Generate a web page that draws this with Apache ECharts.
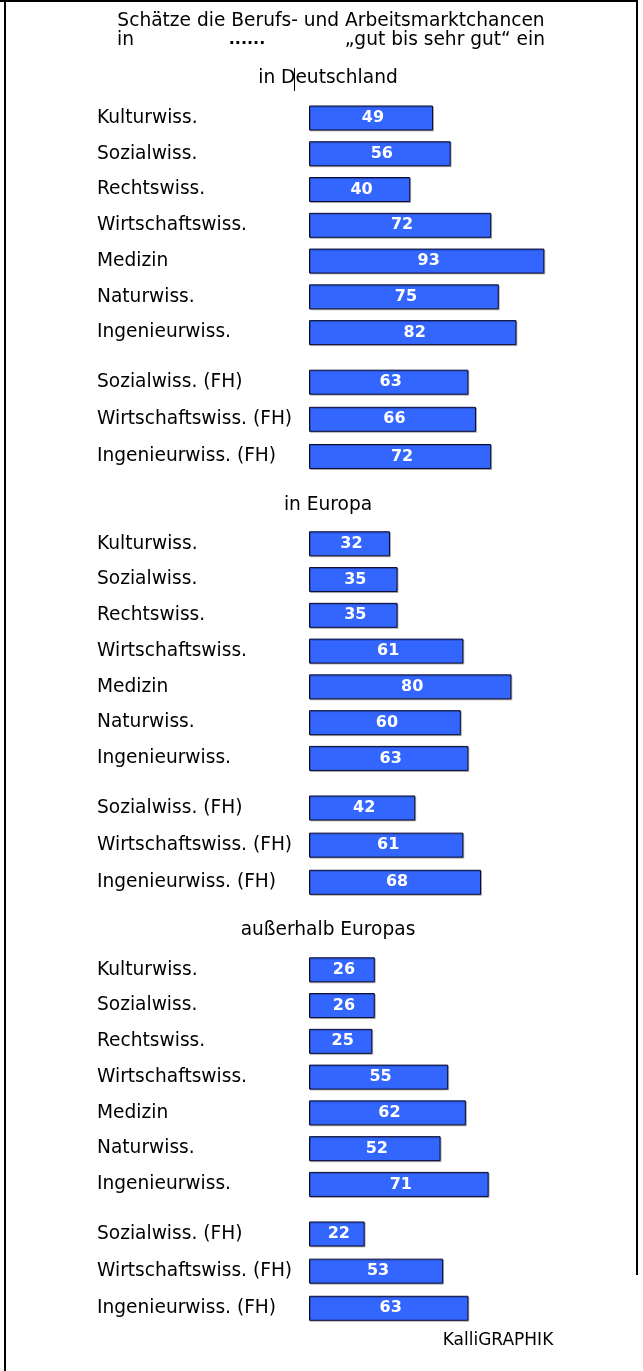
<!DOCTYPE html>
<html>
<head>
<meta charset="utf-8">
<script src="https://cdn.jsdelivr.net/npm/echarts@6/dist/echarts.min.js"></script>
<style>
html,body{margin:0;padding:0;background:#fff;}
#c{width:643px;height:1371px;}
</style>
</head>
<body>
<div id="c"></div>
<script>
const categoriesMain = ['Kulturwiss.', 'Sozialwiss.', 'Rechtswiss.', 'Wirtschaftswiss.', 'Medizin', 'Naturwiss.', 'Ingenieurwiss.'];
const categoriesFH = ['Sozialwiss. (FH)', 'Wirtschaftswiss. (FH)', 'Ingenieurwiss. (FH)'];
const regionTitles = ['in Deutschland', 'in Europa', 'außerhalb Europas'];
const deutschlandMain = [49, 56, 40, 72, 93, 75, 82];
const deutschlandFH = [63, 66, 72];
const europaMain = [32, 35, 35, 61, 80, 60, 63];
const europaFH = [42, 61, 68];
const aussenMain = [26, 26, 25, 55, 62, 52, 71];
const aussenFH = [22, 53, 63];
const titleLine1 = 'Schätze die Berufs- und Arbeitsmarktchancen';
const titleIn = 'in';
const titleDots = '......';
const titleRest = '„gut bis sehr gut“ ein';
const creditText = 'KalliGRAPHIK';

const FONT = 'DejaVu Sans';
const FS = 18.6;
const groups = [
  [deutschlandMain, deutschlandFH],
  [europaMain, europaFH],
  [aussenMain, aussenFH]
];
const offsets = [0, 425.8, 851.8];
const titleY = [78.5, 505, 930];

const grid = [], xAxis = [], yAxis = [], series = [];
groups.forEach((g, r) => {
  [[categoriesMain, g[0], 100.1, 250.4], [categoriesFH, g[1], 363.6, 111.45]].forEach(([cats, vals, top, h]) => {
    const idx = grid.length;
    grid.push({left: 309, width: 253, top: top + offsets[r], height: h});
    xAxis.push({gridIndex: idx, type: 'value', min: 0, max: 100, show: false});
    yAxis.push({
      gridIndex: idx, type: 'category', data: cats, inverse: true,
      axisLine: {show: false}, axisTick: {show: false}, splitLine: {show: false},
      axisLabel: {align: 'left', margin: 212, color: '#000', fontSize: FS, fontFamily: FONT}
    });
    series.push({
      type: 'bar', xAxisIndex: idx, yAxisIndex: idx, data: vals, barWidth: 25,
      itemStyle: {color: '#3366ff', borderColor: '#0a0a30', borderWidth: 1,
        shadowColor: 'rgba(0,0,0,0.25)', shadowOffsetX: 1, shadowOffsetY: 1, shadowBlur: 0},
      label: {show: true, position: 'inside', offset: [2, 0], color: '#fff', fontWeight: 'bold', fontSize: 16, fontFamily: FONT},
      silent: true, animation: false
    });
  });
});

const graphic = [
  {type: 'line', shape: {x1: 5, y1: 0, x2: 5, y2: 1371}, style: {stroke: '#000', lineWidth: 2}},
  {type: 'line', shape: {x1: 0, y1: 1, x2: 638, y2: 1}, style: {stroke: '#000', lineWidth: 2}},
  {type: 'line', shape: {x1: 637, y1: 0, x2: 637, y2: 1275}, style: {stroke: '#000', lineWidth: 2}},
  {type: 'text', x: 331, y: 21, style: {text: titleLine1, fill: '#000', font: FS + 'px "' + FONT + '"', textAlign: 'center', textVerticalAlign: 'middle'}},
  {type: 'text', x: 117, y: 40, style: {text: titleIn, fill: '#000', font: FS + 'px "' + FONT + '"', textAlign: 'left', textVerticalAlign: 'middle'}},
  {type: 'text', x: 247, y: 40, style: {text: titleDots, fill: '#000', font: 'bold 16px "' + FONT + '"', textAlign: 'center', textVerticalAlign: 'middle'}},
  {type: 'text', x: 545, y: 40, style: {text: titleRest, fill: '#000', font: FS + 'px "' + FONT + '"', textAlign: 'right', textVerticalAlign: 'middle'}},
  {type: 'line', shape: {x1: 294.5, y1: 68, x2: 294.5, y2: 91}, style: {stroke: '#000', lineWidth: 1}},
  {type: 'text', x: 498, y: 1341, style: {text: creditText, fill: '#000', font: '17px "' + FONT + '"', textAlign: 'center', textVerticalAlign: 'middle'}}
];
regionTitles.forEach((t, i) => {
  graphic.push({type: 'text', x: 328, y: titleY[i], style: {text: t, fill: '#000', font: FS + 'px "' + FONT + '"', textAlign: 'center', textVerticalAlign: 'middle'}});
});

const chart = echarts.init(document.getElementById('c'), null, {renderer: 'canvas'});
chart.setOption({animation: false, backgroundColor: '#fff', grid, xAxis, yAxis, series, graphic});
</script>
</body>
</html>
